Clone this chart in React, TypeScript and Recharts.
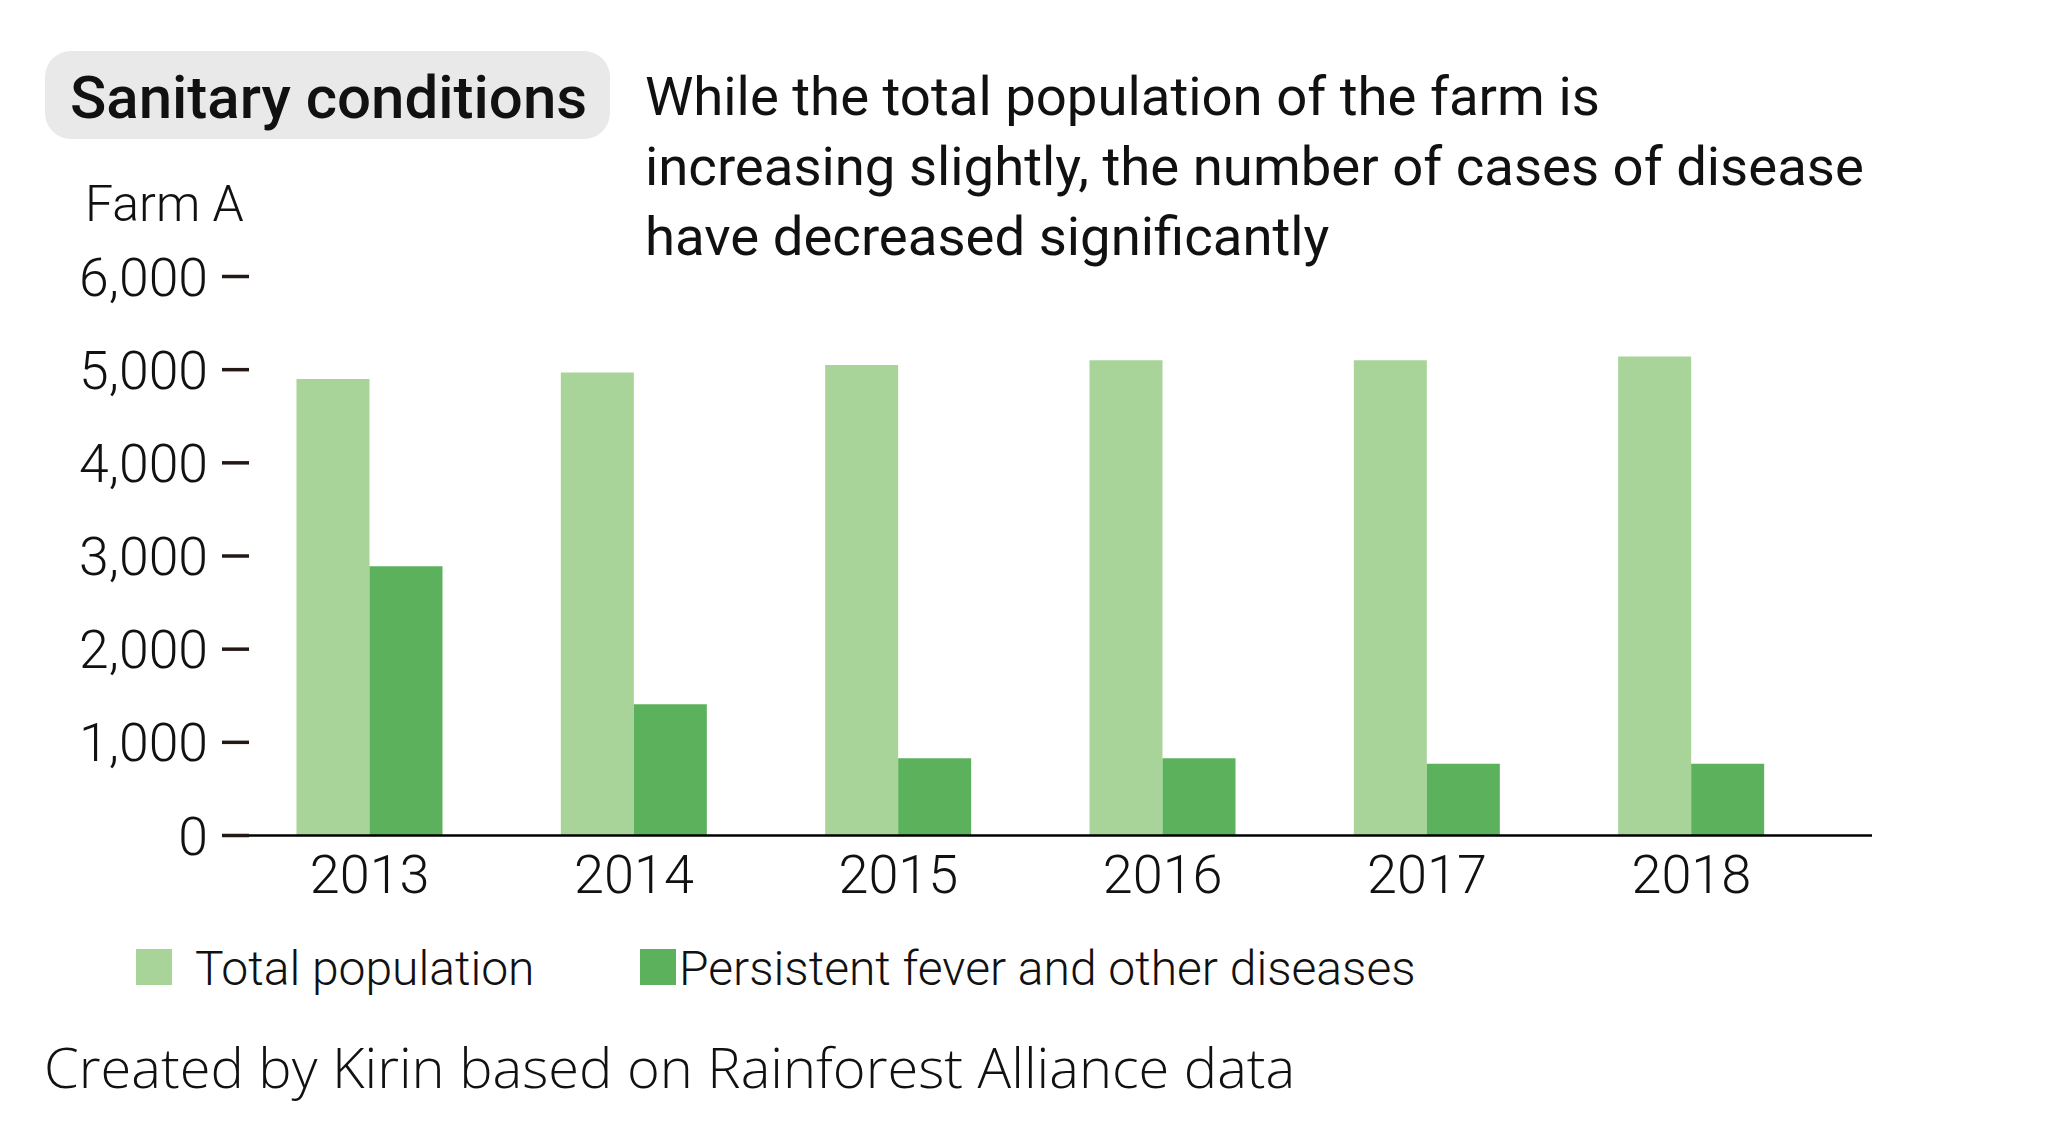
import { BarChart, Bar, XAxis, YAxis, Legend } from "recharts";

const years = ["2013", "2014", "2015", "2016", "2017", "2018"];
const totalPopulation = [4900, 4970, 5050, 5100, 5100, 5140];
const diseaseCases = [2890, 1410, 830, 830, 770, 770];
const yTicks = [0, 1000, 2000, 3000, 4000, 5000, 6000];

const seriesNames = ["Total population", "Persistent fever and other diseases"];

const data = years.map((year, i) => ({
  year,
  total: totalPopulation[i],
  disease: diseaseCases[i],
}));

const LIGHT = "#a8d49a";
const DARK = "#5cb25c";
const INK = "#111111";
const FONT = "Roboto, sans-serif";

function YTick({ x, y, payload }: any) {
  return (
    <g>
      <text
        x={x}
        y={y}
        dy={19}
        textAnchor="end"
        fontFamily={FONT}
        fontWeight={300}
        fontSize={53.5}
        fill={INK}
      >
        {Number(payload.value).toLocaleString("en-US")}
      </text>
      <line x1={x + 14} x2={x + 41} y1={y} y2={y} stroke="#231815" strokeWidth={3.5} />
    </g>
  );
}

// legend items sit at fixed spots, like the original layout
const legendItemX = [0, 504];
const legendTextGap = [59, 39];

function LegendContent({ payload }: any) {
  const items = [...(payload || [])].sort(
    (a: any, b: any) => seriesNames.indexOf(a.value) - seriesNames.indexOf(b.value)
  );
  return (
    <svg width={1400} height={60} style={{ overflow: "visible" }}>
      {items.map((p: any, i: number) => (
        <g key={p.value}>
          <rect x={legendItemX[i]} y={0} width={36} height={36} fill={p.color} />
          <text
            x={legendItemX[i] + legendTextGap[i]}
            y={36}
            fontFamily={FONT}
            fontWeight={300}
            fontSize={48}
            fill={INK}
          >
            {p.value}
          </text>
        </g>
      ))}
    </svg>
  );
}

export default function App() {
  return (
    <div style={{ position: "absolute", left: 0, top: 0, width: 2072, height: 1145, background: "#fff" }}>
      <div style={{ position: "absolute", left: 0, top: 0 }}>
        <BarChart
          width={2072}
          height={1145}
          data={data}
          margin={{ top: 276.5, right: 200, bottom: 229.5, left: 0 }}
          barGap={0}
        >
          <XAxis
            dataKey="year"
            height={80}
            padding={{ left: 15.5, right: 48.5 }}
            tickLine={false}
            tickSize={0}
            tickMargin={19}
            axisLine={{ stroke: "#000", strokeWidth: 2.5 }}
            tick={{ fontSize: 54, fontFamily: FONT, fontWeight: 300, fill: INK }}
          />
          <YAxis
            width={222}
            domain={[0, 6000]}
            ticks={yTicks}
            axisLine={false}
            tickLine={false}
            tickSize={0}
            tickMargin={14}
            tick={<YTick />}
          />
          <Legend
            layout="horizontal"
            verticalAlign="middle"
            align="center"
            wrapperStyle={{ left: 136, top: 949, width: 1400 }}
            content={<LegendContent />}
          />
          <Bar dataKey="total" name={seriesNames[0]} fill={LIGHT} barSize={73} isAnimationActive={false} />
          <Bar dataKey="disease" name={seriesNames[1]} fill={DARK} barSize={73} isAnimationActive={false} />
        </BarChart>
      </div>
      <svg
        width={2072}
        height={1145}
        style={{ position: "absolute", left: 0, top: 0, pointerEvents: "none" }}
      >
        <rect x={45} y={51} width={565} height={88} rx={26} fill="#e8e9e8" />
        <text x={70} y={118} fontFamily={FONT} fontWeight={500} fontSize={60} fill={INK}>
          Sanitary conditions
        </text>
        <text fontFamily={FONT} fontWeight={400} fontSize={54.5} fill={INK}>
          <tspan x={645} y={115}>While the total population of the farm is</tspan>
          <tspan x={645} y={185}>increasing slightly, the number of cases of disease</tspan>
          <tspan x={645} y={255}>have decreased significantly</tspan>
        </text>
        <text x={85} y={221} fontFamily={FONT} fontWeight={300} fontSize={50} fill={INK}>
          Farm A
        </text>
        <text x={44} y={1088} fontFamily="'Open Sans', sans-serif" fontWeight={300} fontSize={56} fill={INK}>
          Created by Kirin based on Rainforest Alliance data
        </text>
      </svg>
    </div>
  );
}
